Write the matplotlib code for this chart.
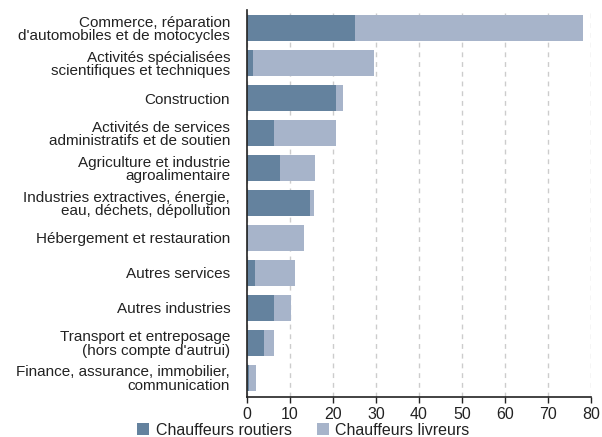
import matplotlib.pyplot as plt
import numpy as np

plt.rcParams['font.family'] = ['Liberation Sans', 'DejaVu Sans']

# secteurs (du haut vers le bas)
secteurs = [
    "Commerce, réparation\nd'automobiles et de motocycles",
    "Activités spécialisées\nscientifiques et techniques",
    "Construction",
    "Activités de services\nadministratifs et de soutien",
    "Agriculture et industrie\nagroalimentaire",
    "Industries extractives, énergie,\neau, déchets, dépollution",
    "Hébergement et restauration",
    "Autres services",
    "Autres industries",
    "Transport et entreposage\n(hors compte d'autrui)",
    "Finance, assurance, immobilier,\ncommunication",
]
routiers = [25.1, 1.5, 20.7, 6.4, 7.6, 14.6, 0.2, 1.8, 6.2, 4.1, 0.5]
livreurs = [52.9, 28.0, 1.6, 14.3, 8.2, 0.9, 13.2, 9.5, 4.0, 2.1, 1.7]

col_rout = '#64829e'
col_livr = '#a7b4ca'

fig = plt.figure(figsize=(6.02, 4.37), dpi=100)
ax = fig.add_axes([0.41, 0.0915, 0.572, 0.8855])

y = np.arange(len(secteurs))
ax.barh(y, routiers, height=0.74, color=col_rout, label='Chauffeurs routiers', zorder=2)
ax.barh(y, livreurs, left=routiers, height=0.74, color=col_livr, label='Chauffeurs livreurs', zorder=2)

ax.set_ylim(len(secteurs) - 0.45, -0.52)
ax.set_xlim(0, 80)
ax.set_xticks(range(0, 81, 10))
ax.set_yticks(y)
ax.set_yticklabels(secteurs, fontsize=11, color='#222222', linespacing=0.95)
ax.tick_params(axis='y', length=0, pad=12)
ax.tick_params(axis='x', labelsize=11.5, colors='#222222', length=4, width=1, direction='out', pad=3)

ax.grid(axis='x', linestyle=(0, (3.5, 3.5)), color='#cccccc', linewidth=1, zorder=0)
for s in ['top', 'right']:
    ax.spines[s].set_visible(False)
ax.spines['left'].set_color('#222222')
ax.spines['bottom'].set_color('#222222')
ax.spines['left'].set_linewidth(1.2)
ax.spines['bottom'].set_linewidth(1.2)

fig.legend(loc='center', bbox_to_anchor=(0.504, 0.016), ncol=2, frameon=False,
           fontsize=11.5, handlelength=0.75, handleheight=0.75, handletextpad=0.4,
           columnspacing=1.6, borderpad=0, labelcolor='#222222')

fig.savefig('out.png', dpi=100)
